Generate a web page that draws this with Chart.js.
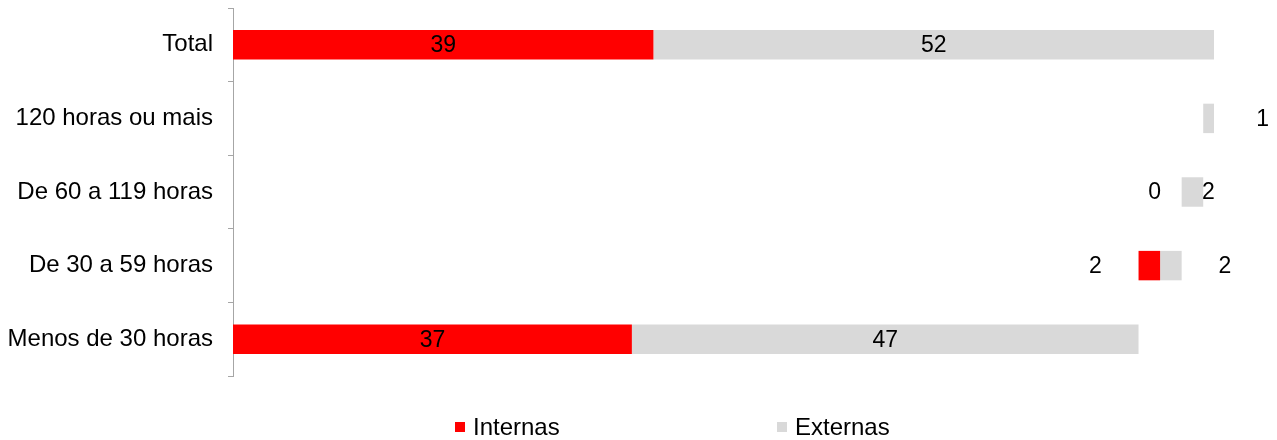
<!DOCTYPE html>
<html>
<head>
<meta charset="utf-8">
<script src="https://cdn.jsdelivr.net/npm/chart.js@4"></script>
<style>
  body { margin: 0; background: #fff; }
</style>
</head>
<body>
<canvas id="grafica" width="1277" height="440"></canvas>
<script>
var categorias = ['Total', '120 horas ou mais', 'De 60 a 119 horas', 'De 30 a 59 horas', 'Menos de 30 horas'];
var internas = [39, null, 0, 2, 37];
var externas = [52, 1, 2, 2, 47];

// base invisivel (cascata): cada faixa começa onde a de baixo terminou
var base = [0, 0, 0, 0, 0];
for (var i = categorias.length - 2; i >= 1; i--) {
    base[i] = base[i + 1] + (internas[i + 1] || 0) + externas[i + 1];
}

var fonte = '"Liberation Sans", Arial, sans-serif';
Chart.defaults.font.family = fonte;
Chart.defaults.font.size = 24;
Chart.defaults.color = '#000';

// rotulos de dados (deslocamentos em px para barras pequenas)
var rotulos = {
    id: 'rotulos',
    afterDatasetsDraw: function(chart, args, opts) {
        var ctx = chart.ctx;
        ctx.save();
        ctx.font = '23px ' + fonte;
        ctx.fillStyle = '#000';
        ctx.textAlign = 'center';
        ctx.textBaseline = 'middle';
        for (var d = 1; d < chart.data.datasets.length; d++) {
            var meta = chart.getDatasetMeta(d);
            var desl = opts.desloc[d];
            meta.data.forEach(function(bar, idx) {
                var v = chart.data.datasets[d].data[idx];
                if (v === null || v === undefined) return;
                var cx = (bar.x + bar.base) / 2;
                if (Math.abs(bar.x - bar.base) < 40) cx += desl[idx];
                ctx.fillText(String(v), cx, bar.y + 1);
            });
        }
        ctx.restore();
    }
};

// legenda desenhada à mão para ficar igual ao original
var legenda = {
    id: 'legenda',
    afterDraw: function(chart, args, opts) {
        var ctx = chart.ctx;
        ctx.save();
        ctx.font = '24px ' + fonte;
        ctx.textBaseline = 'middle';
        ctx.textAlign = 'left';
        for (var d = 1; d < chart.data.datasets.length; d++) {
            var ds = chart.data.datasets[d];
            var x = opts.xs[d - 1];
            ctx.fillStyle = ds.backgroundColor;
            ctx.fillRect(x, opts.y - 5, 10, 10);
            ctx.fillStyle = '#000';
            ctx.fillText(ds.label, x + 18, opts.y + 1);
        }
        ctx.restore();
    }
};

var ctx = document.getElementById('grafica').getContext('2d');

var grafica = new Chart(ctx, {
    type: 'bar',
    data: {
        labels: categorias,
        datasets: [{
            label: 'base',
            data: base,
            backgroundColor: 'rgba(0,0,0,0)'
        }, {
            label: 'Internas',
            data: internas,
            backgroundColor: '#FF0000'
        }, {
            label: 'Externas',
            data: externas,
            backgroundColor: '#D9D9D9'
        }]
    },
    options: {
        indexAxis: 'y',
        responsive: false,
        animation: false,
        barPercentage: 0.4,
        categoryPercentage: 1,
        layout: {
            padding: { top: 8, bottom: 64, left: 8, right: 63 }
        },
        scales: {
            x: {
                stacked: true,
                display: false,
                min: 0,
                max: 91
            },
            y: {
                stacked: true,
                afterFit: function(scale) {
                    scale.width = 225;
                    scale.paddingTop = 0;
                    scale.paddingBottom = 0;
                },
                grid: {
                    drawOnChartArea: false,
                    offset: true,
                    tickLength: 5,
                    color: '#A6A6A6'
                },
                border: { color: '#A6A6A6', width: 1 },
                ticks: { padding: 15, color: '#000', font: { size: 24 } }
            }
        },
        plugins: {
            legend: { display: false },
            tooltip: { enabled: false },
            rotulos: {
                desloc: { 1: [0, 0, -27, -54, 0], 2: [0, 54, 16, 54, 0] }
            },
            legenda: { xs: [455, 777], y: 427 }
        }
    },
    plugins: [rotulos, legenda]
});
</script>
</body>
</html>
